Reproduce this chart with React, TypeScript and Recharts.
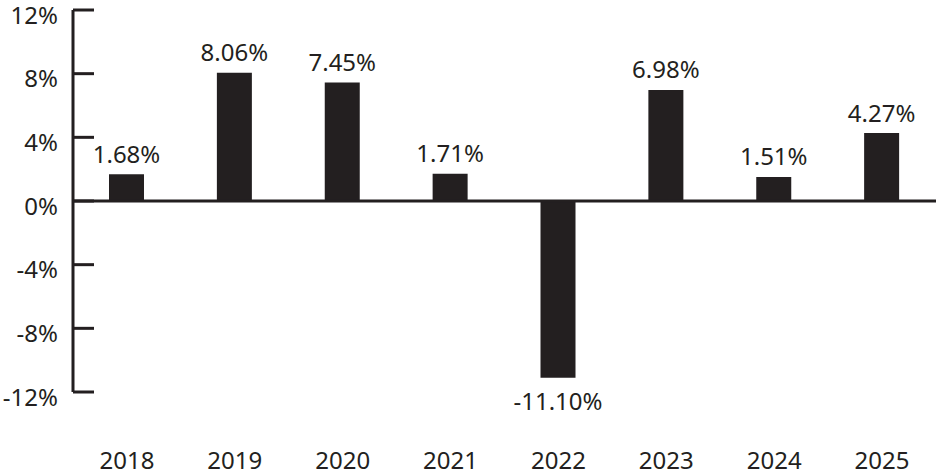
import React from 'react';
import { BarChart, Bar, XAxis, YAxis, ReferenceLine, LabelList } from 'recharts';

const years = ['2018', '2019', '2020', '2021', '2022', '2023', '2024', '2025'];
const returns = [1.68, 8.06, 7.45, 1.71, -11.1, 6.98, 1.51, 4.27];
const yTicks = [-12, -8, -4, 0, 4, 8, 12];

const INK = '#231f20';
const FONT = '"Noto Sans", sans-serif';

const data = years.map((year, i) => ({ year, value: returns[i] }));

const YTick = (props: any) => {
  const { x, y, payload } = props;
  return (
    <g>
      <line x1={x} y1={y} x2={x + 21} y2={y} stroke={INK} strokeWidth={3} />
      <text
        x={x - 15}
        y={y + 4}
        textAnchor="end"
        dominantBaseline="central"
        fontFamily={FONT}
        fontSize={24}
        fill={INK}
      >
        {`${payload.value}%`}
      </text>
    </g>
  );
};

const XTick = (props: any) => {
  const { x, y, payload } = props;
  return (
    <text
      x={x}
      y={y + 67}
      textAnchor="middle"
      dominantBaseline="central"
      fontFamily={FONT}
      fontSize={24}
      fill={INK}
    >
      {payload.value}
    </text>
  );
};

const ValueLabel = (props: any) => {
  const { x, y, width, height, value } = props;
  const top = Math.min(y, y + height);
  const bottom = Math.max(y, y + height);
  const ty = value < 0 ? bottom + 23 : top - 21;
  return (
    <text
      x={x + width / 2}
      y={ty}
      textAnchor="middle"
      dominantBaseline="central"
      fontFamily={FONT}
      fontSize={24}
      fill={INK}
    >
      {`${value.toFixed(2)}%`}
    </text>
  );
};

export default function App() {
  return (
    <div style={{ position: 'absolute', left: 0, top: 0, background: '#fff' }}>
      <BarChart
        width={936}
        height={475}
        data={data}
        margin={{ top: 10, right: 0, bottom: 0, left: 0 }}
        barCategoryGap={0}
      >
        <YAxis
          domain={[-12, 12]}
          ticks={yTicks}
          width={73}
          axisLine={{ stroke: INK, strokeWidth: 3 }}
          tickLine={false}
          tickSize={0}
          tickMargin={0}
          tick={<YTick />}
          interval={0}
        />
        <XAxis
          dataKey="year"
          axisLine={false}
          tickLine={false}
          tickSize={0}
          tickMargin={0}
          height={83}
          tick={<XTick />}
          interval={0}
        />
        <ReferenceLine y={0} stroke={INK} strokeWidth={3} />
        <Bar dataKey="value" fill={INK} barSize={35} isAnimationActive={false}>
          <LabelList dataKey="value" content={<ValueLabel />} />
        </Bar>
      </BarChart>
    </div>
  );
}
